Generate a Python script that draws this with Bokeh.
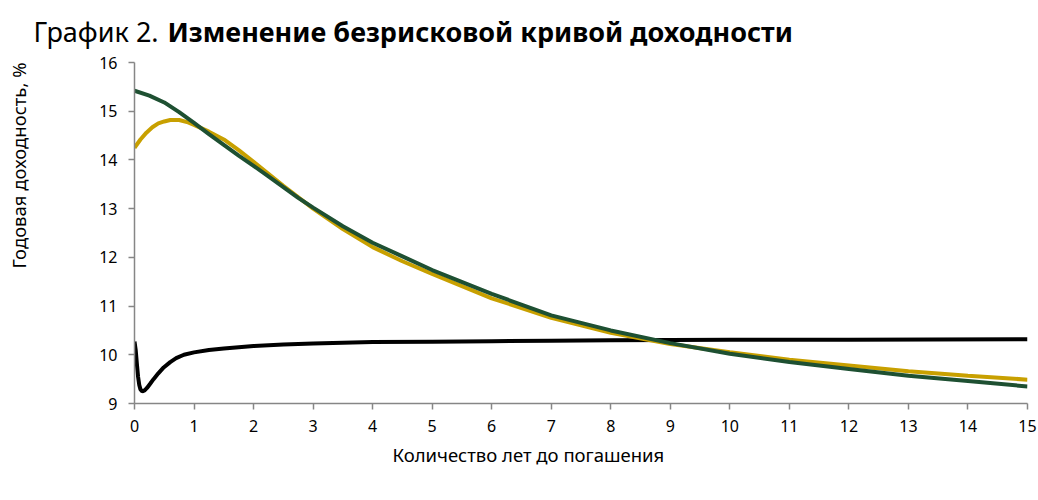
import math
from bokeh.plotting import figure
from bokeh.layouts import column, row
from bokeh.models import Legend, LegendItem, Title, Range1d, FixedTicker
from bokeh.core.properties import value
from bokeh.embed import file_html
from bokeh.resources import INLINE

FONT = "Noto Sans"

# --- data (years to maturity, yield %) ---
x_2021 = [0.0, 0.02, 0.04, 0.06, 0.08, 0.10, 0.13, 0.17, 0.21, 0.26, 0.32, 0.40, 0.49, 0.60, 0.70, 0.83, 1.0, 1.25, 1.5, 2.0, 2.5, 3.0, 4.0, 5.0, 6.0, 7.0, 8.0, 10.0, 12.0, 15.0]
y_2021 = [10.27, 10.10, 9.81, 9.55, 9.38, 9.29, 9.25, 9.27, 9.32, 9.40, 9.50, 9.62, 9.74, 9.85, 9.93, 10.0, 10.05, 10.10, 10.13, 10.18, 10.21, 10.23, 10.26, 10.27, 10.28, 10.29, 10.30, 10.31, 10.31, 10.32]

x_sep22 = [0.0, 0.1, 0.2, 0.3, 0.4, 0.5, 0.6, 0.75, 0.9, 1.0, 1.25, 1.5, 1.75, 2.0, 2.5, 3.0, 3.5, 4.0, 4.5, 5.0, 6.0, 7.0, 8.0, 9.0, 10.0, 11.0, 12.0, 13.0, 14.0, 15.0]
y_sep22 = [14.25, 14.42, 14.56, 14.67, 14.75, 14.79, 14.82, 14.82, 14.77, 14.72, 14.58, 14.42, 14.20, 13.96, 13.47, 13.0, 12.58, 12.21, 11.92, 11.66, 11.16, 10.76, 10.45, 10.22, 10.05, 9.90, 9.78, 9.66, 9.57, 9.49]

x_oct22 = [0.0, 0.25, 0.5, 0.75, 1.0, 1.25, 1.5, 1.75, 2.0, 2.25, 2.5, 2.75, 3.0, 3.5, 4.0, 4.5, 5.0, 6.0, 7.0, 8.0, 9.0, 10.0, 11.0, 12.0, 13.0, 14.0, 15.0]
y_oct22 = [15.42, 15.32, 15.18, 14.98, 14.76, 14.53, 14.31, 14.09, 13.88, 13.66, 13.44, 13.22, 13.02, 12.64, 12.30, 12.02, 11.74, 11.25, 10.81, 10.50, 10.24, 10.02, 9.85, 9.71, 9.57, 9.46, 9.35]

series_names = ["31.12.2021", "30.09.2022", "31.10.2022"]
series_colors = ["#000000", "#C8A000", "#1E5032"]

title_plain = "График 2."
title_bold = "Изменение безрисковой кривой доходности"
x_label = "Количество лет до погашения"
y_label = "Годовая доходность, %"

x_ticks = list(range(0, 16))
y_ticks = list(range(9, 17))

PAGE_W, PAGE_H = 1038, 500
LEFT_STRIP = 30
HEAD_H = 52
TOP_PAD = 10  # room for the top tick label inside the chart canvas

# ---- left strip with the y-axis title (pixel coordinates) ----
yfig = figure(width=LEFT_STRIP, height=PAGE_H, x_range=Range1d(0, LEFT_STRIP),
              y_range=Range1d(PAGE_H, 0), x_axis_type=None, y_axis_type=None,
              output_backend="svg", toolbar_location=None, min_border=0,
              outline_line_color=None)
yfig.frame_align = False
yfig.grid.visible = False
yfig.text(x=[18], y=[165], text=[y_label], angle=math.pi / 2, text_font=value(FONT),
          text_font_size="18.5px", text_align="center", text_baseline="middle",
          text_color="#000000")

# ---- header strip with the two-style title (pixel coordinates) ----
head = figure(width=PAGE_W - LEFT_STRIP, height=HEAD_H, x_range=Range1d(LEFT_STRIP, PAGE_W),
              y_range=Range1d(HEAD_H, 0), x_axis_type=None, y_axis_type=None,
              output_backend="svg", toolbar_location=None, min_border=0,
              outline_line_color=None)
head.frame_align = False
head.grid.visible = False
head.text(x=[33], y=[31], text=[title_plain], text_font=value(FONT),
          text_font_size="27px", text_baseline="middle", text_color="#000000")
head.text(x=[167], y=[31], text=[title_bold], text_font=value(FONT),
          text_font_size="27px", text_font_style="bold", text_baseline="middle",
          text_color="#000000")

# ---- main chart ----
p = figure(frame_width=893, frame_height=341,
           x_range=Range1d(0, 15), y_range=Range1d(9, 16),
           output_backend="svg", toolbar_location=None,
           min_border_left=134 - LEFT_STRIP, min_border_right=11, min_border_top=TOP_PAD,
           min_border_bottom=PAGE_H - HEAD_H - TOP_PAD - 341)
p.frame_align = False
p.grid.visible = False
p.outline_line_color = None

r1 = p.line(x_2021, y_2021, line_color=series_colors[0], line_width=4)
r2 = p.line(x_sep22, y_sep22, line_color=series_colors[1], line_width=4)
r3 = p.line(x_oct22, y_oct22, line_color=series_colors[2], line_width=4)

axis_col = "#868686"
for ax in (p.xaxis[0], p.yaxis[0]):
    ax.axis_line_color = axis_col
    ax.axis_line_width = 1.5
    ax.major_tick_line_color = axis_col
    ax.major_tick_line_width = 1.5
    ax.minor_tick_line_color = None
    ax.major_tick_in = 0
    ax.major_label_text_font = FONT
    ax.major_label_text_font_size = "16px"
    ax.major_label_text_color = "#000000"

p.xaxis.ticker = FixedTicker(ticks=x_ticks)
p.yaxis.ticker = FixedTicker(ticks=y_ticks)
p.xaxis.major_tick_out = 6
p.yaxis.major_tick_out = 6
p.xaxis.major_label_standoff = 10
p.yaxis.major_label_standoff = 11

xtitle = Title(text=x_label, align="left", offset=258, standoff=10,
               text_font=FONT, text_font_size="18.5px", text_font_style="normal",
               text_color="#000000")
p.add_layout(xtitle, "below")

# tuple location: x from the panel's left, y = legend top measured up from slot bottom
legend = Legend(items=[LegendItem(label=series_names[0], renderers=[r1]),
                       LegendItem(label=series_names[1], renderers=[r2]),
                       LegendItem(label=series_names[2], renderers=[r3])],
                orientation="horizontal", location=(21, 25),
                glyph_width=60, glyph_height=16, label_height=18, label_width=242,
                label_standoff=3, spacing=0, padding=0, margin=0,
                label_text_font=FONT, label_text_font_size="18.5px",
                border_line_color=None, background_fill_alpha=0)
p.add_layout(legend, "below")

layout = row(yfig, column(head, p, spacing=0), spacing=0)
open("out.html", "w").write(file_html(layout, INLINE))
